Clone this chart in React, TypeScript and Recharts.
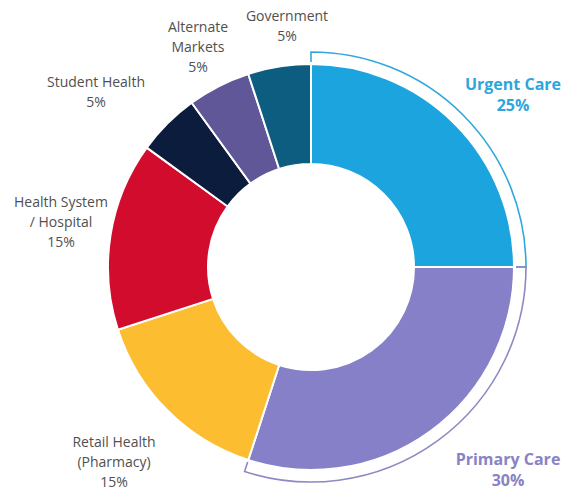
import { Cell, Pie, PieChart } from "recharts"

// segments clockwise from 12 o'clock
const categories = [
  "Urgent Care",
  "Primary Care",
  "Retail Health\n(Pharmacy)",
  "Health System\n/ Hospital",
  "Student Health",
  "Alternate\nMarkets",
  "Government",
]
const shares = [25, 30, 15, 15, 5, 5, 5]
const sliceColors = ["#1ca4df", "#8580c7", "#fdbd31", "#d20c2c", "#0b1c3d", "#5f5797", "#0c5d80"]
const bracketColors = ["#30a8dd", "#8d89c4", "", "", "", "", ""]
const labelColors = ["#2ea6dd", "#8883c4", "#505050", "#505050", "#505050", "#505050", "#505050"]

// label anchor offsets from the pie center (first line baseline)
const labelOffsets = [
  [202, -177],
  [197, 198],
  [-197, 180],
  [-250, -60],
  [-215, -180],
  [-113, -235],
  [-24, -246],
]

const data = categories.map((name, i) => ({
  name,
  value: shares[i],
  bracket: bracketColors[i],
}))

const RAD = Math.PI / 180

const BracketShape = (props: any) => {
  const { cx, cy, innerRadius, outerRadius, startAngle, endAngle } = props
  const col = props.bracket ?? props.payload?.bracket
  if (!col) return <g />
  const pt = (r: number, a: number) => [cx + r * Math.cos(-a * RAD), cy + r * Math.sin(-a * RAD)]
  const [x1, y1] = pt(innerRadius, startAngle)
  const [x2, y2] = pt(outerRadius, startAngle)
  const [x3, y3] = pt(outerRadius, endAngle)
  const [x4, y4] = pt(innerRadius, endAngle)
  const large = Math.abs(endAngle - startAngle) > 180 ? 1 : 0
  const sweep = startAngle > endAngle ? 1 : 0
  return (
    <path
      d={`M${x1},${y1} L${x2},${y2} A${outerRadius},${outerRadius} 0 ${large} ${sweep} ${x3},${y3} L${x4},${y4}`}
      fill="none"
      stroke={col}
      strokeWidth={1.6}
    />
  )
}

const renderLabel = (props: any) => {
  const { cx, cy, index, value, name } = props
  const [dx, dy] = labelOffsets[index]
  const big = index < 2
  const lines = [...String(name).split("\n"), `${value}%`]
  return (
    <text
      key={`lbl-${index}`}
      x={cx + dx}
      y={cy + dy}
      textAnchor="middle"
      fill={labelColors[index]}
      fontFamily="'Open Sans', sans-serif"
      fontSize={big ? 16 : 14}
      fontWeight={big ? 700 : 400}
    >
      {lines.map((ln, j) => (
        <tspan key={j} x={cx + dx} dy={j === 0 ? 0 : big ? 20.5 : 20}>
          {ln}
        </tspan>
      ))}
    </text>
  )
}

export default function App() {
  return (
    <div style={{ position: "absolute", left: 0, top: 0, background: "#fff" }}>
      <PieChart width={563} height={491} margin={{ top: 0, right: 0, bottom: 0, left: 0 }}>
        <Pie
          data={data}
          dataKey="value"
          cx={311}
          cy={267}
          innerRadius={205}
          outerRadius={215}
          startAngle={90}
          endAngle={-270}
          fill="none"
          stroke="none"
          shape={BracketShape}
          isAnimationActive={false}
        />
        <Pie
          data={data}
          dataKey="value"
          cx={311}
          cy={267}
          innerRadius={103}
          outerRadius={203}
          startAngle={90}
          endAngle={-270}
          stroke="#fff"
          strokeWidth={2}
          label={renderLabel}
          labelLine={false}
          isAnimationActive={false}
        >
          {data.map((d, i) => (
            <Cell key={d.name} fill={sliceColors[i]} />
          ))}
        </Pie>
      </PieChart>
    </div>
  )
}
